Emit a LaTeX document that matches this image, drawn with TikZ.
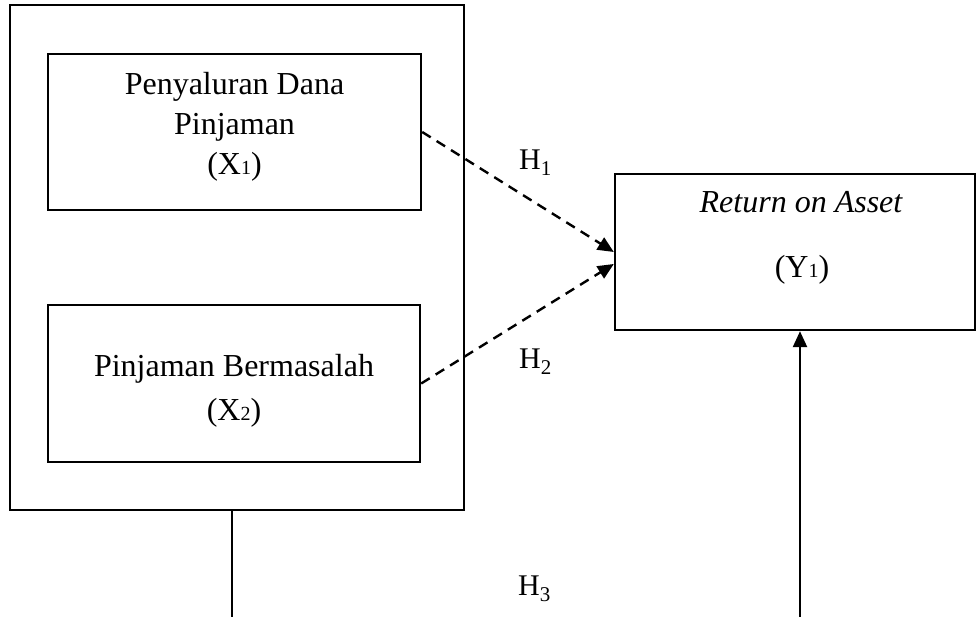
\documentclass[tikz,border=0pt]{standalone}
\usepackage{fontspec}
\setmainfont{Liberation Serif}
\usetikzlibrary{arrows.meta}
\newcommand\smallsub[1]{{\fontsize{20}{20}\selectfont #1}}
\newcommand\hsub[1]{\raisebox{-6pt}{\fontsize{21}{21}\selectfont #1}}
\begin{document}
\begin{tikzpicture}[x=1pt,y=-1pt,
  box/.style={draw,line width=2.4pt,inner sep=0pt},
  lbl/.style={font=\fontsize{32}{41}\selectfont,inner sep=0pt,anchor=base},
  hlbl/.style={font=\fontsize{30}{32}\selectfont,inner sep=0pt,anchor=base west},
  dasharrow/.style={line width=2.4pt,dash pattern=on 10pt off 7pt,-{Triangle[length=16pt,width=14pt]}},
  solidarrow/.style={line width=2.4pt,-{Triangle[length=16pt,width=14pt]}},
  plainline/.style={line width=2.4pt}]
\useasboundingbox (0,0) rectangle (977,617);
\node[box,minimum width=454pt,minimum height=505pt] (outer) at (237,257.5) {};
\node[box,minimum width=373pt,minimum height=156pt] (box1) at (234.5,132) {};
\node[box,minimum width=372pt,minimum height=157pt] (box2) at (234,383.5) {};
\node[box,minimum width=360pt,minimum height=156pt] (roa) at (795,252) {};
% texts
\node[lbl] (p1) at (234.5,95) {Penyaluran Dana};
\node[lbl] (p2) at (234.5,135) {Pinjaman};
\node[lbl] (p3) at (234.5,175) {(X\smallsub{1})};
\node[lbl] (q1) at (234,377) {Pinjaman Bermasalah};
\node[lbl] (q2) at (234,420) {(X\smallsub{2})};
\node[lbl] (r1) at (801,213) {\itshape Return on Asset};
\node[lbl] (r2) at (802,278) {(Y\smallsub{1})};
\node[hlbl] (h1) at (519,170) {H\hsub{1}};
\node[hlbl] (h2) at (519,369) {H\hsub{2}};
\node[hlbl] (h3) at (518,595) {H\hsub{3}};
% connectors
\draw[dasharrow] (box1.east) -- (roa.west);
\draw[dasharrow] (box2.east) -- ([yshift=-12pt]roa.west);
\coordinate (b1) at (232,617);
\coordinate (b2) at (800,617);
\draw[plainline] (outer.south -| b1) -- (b1);
\draw[solidarrow] (b2) -- (b2 |- roa.south);
\end{tikzpicture}
\end{document}
